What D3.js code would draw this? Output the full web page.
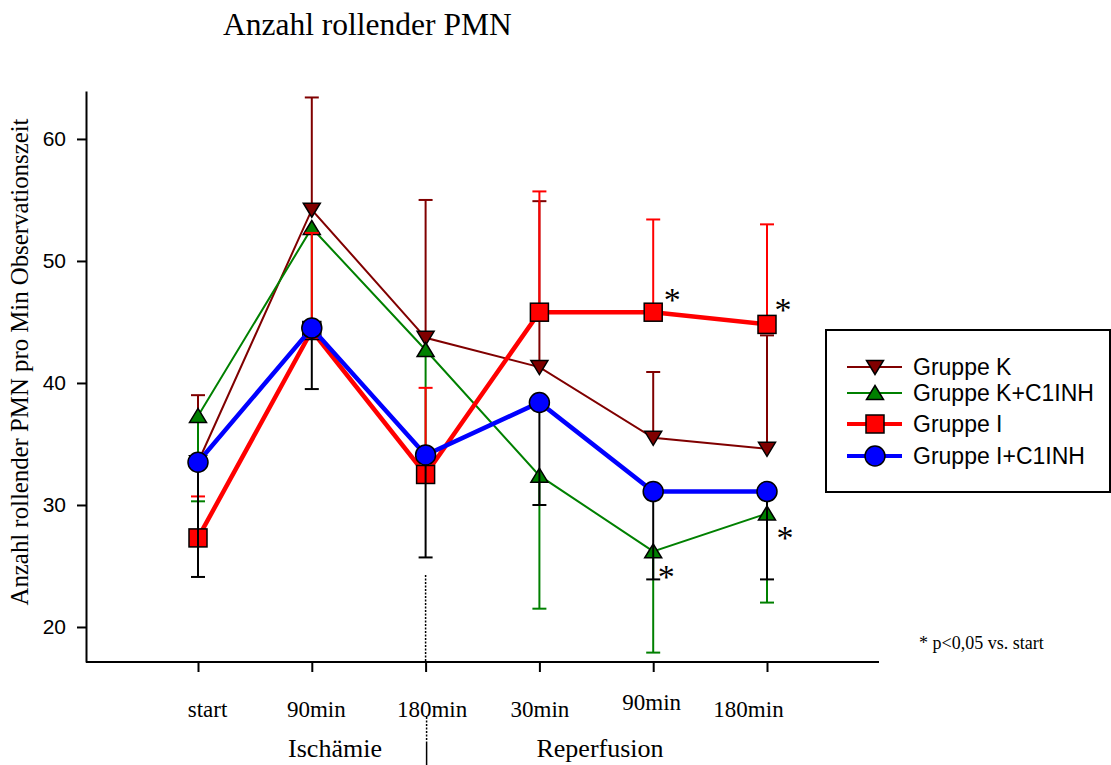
<!DOCTYPE html>
<html>
<head>
<meta charset="utf-8">
<script src="https://cdn.jsdelivr.net/npm/d3@7"></script>
<style>
	body { margin: 0; background: #fff; }
	svg { display: block; }
	.serif { font-family: 'Liberation Serif', 'Times New Roman', serif; }
	.sans { font-family: 'Liberation Sans', Arial, sans-serif; }
</style>
</head>
<body>
<svg id="chart" width="1111" height="765"></svg>
<script>
'use strict';

// time points (x axis)
var tickLabels = ['start', '90min', '180min', '30min', '90min', '180min'];
var yTicks = [20, 30, 40, 50, 60];

// Gruppe K (error bar upwards)
var gruppeK = [33.5, 54.2, 43.7, 41.3, 35.5, 34.6];
var gruppeKErr = [39.0, 63.4, 55.0, 54.9, 40.9, 43.9];
// Gruppe K+C1INH (error bar downwards)
var gruppeKC = [37.3, 52.7, 42.7, 32.4, 26.2, 29.3];
var gruppeKCErr = [30.3, 44.8, 31.8, 21.5, 17.9, 22.0];
// Gruppe I (error bar upwards)
var gruppeI = [27.3, 44.3, 32.5, 45.8, 45.8, 44.8];
var gruppeIErr = [30.7, 52.3, 39.6, 55.7, 53.4, 53.0];
// Gruppe I+C1INH (error bar downwards)
var gruppeIC = [33.5, 44.5, 34.1, 38.4, 31.1, 31.1];
var gruppeICErr = [24.1, 39.5, 25.7, 30.0, 23.9, 23.9];

var series = [
	{ name: 'Gruppe K', values: gruppeK, err: gruppeKErr, line: '#800000', errColor: '#800000', width: 2, shape: 'down' },
	{ name: 'Gruppe K+C1INH', values: gruppeKC, err: gruppeKCErr, line: '#008000', errColor: '#008000', width: 2, shape: 'up' },
	{ name: 'Gruppe I', values: gruppeI, err: gruppeIErr, line: '#ff0000', errColor: '#ff0000', width: 4.5, shape: 'square' },
	{ name: 'Gruppe I+C1INH', values: gruppeIC, err: gruppeICErr, line: '#0000ff', errColor: '#000000', width: 4.5, shape: 'circle' }
];

// significance marks: series index, time index, offset of the star
var stars = [
	{ s: 2, i: 4, dx: 19, dy: -17 },
	{ s: 2, i: 5, dx: 16, dy: -19 },
	{ s: 1, i: 4, dx: 13, dy: 21 },
	{ s: 1, i: 5, dx: 18, dy: 19 }
];

// the tick labels of the original sit a little off their ticks
var labelShift = [9, 4, 6, 0, -2, -19];

var svg = d3.select('#chart');
var margin = { left: 86, top: 91, right: 879, bottom: 662 };

var x = d3.scalePoint()
	.domain(d3.range(tickLabels.length))
	.range([198, 767]);
var y = d3.scaleLinear()
	.domain([17.13, 63.93])
	.range([margin.bottom, margin.top]);

// title
svg.append('text')
	.attr('class', 'serif')
	.attr('x', 223)
	.attr('y', 35)
	.attr('font-size', 31.5)
	.text('Anzahl rollender PMN');

// y axis
var yAxis = d3.axisLeft(y)
	.tickValues(yTicks)
	.tickSize(9)
	.tickSizeOuter(0)
	.tickPadding(11);
var gy = svg.append('g')
	.attr('transform', 'translate(' + margin.left + ',0)')
	.call(yAxis);
gy.selectAll('path, line').attr('stroke', '#000').attr('stroke-width', 2);
gy.selectAll('text')
	.attr('class', 'sans')
	.attr('font-size', 21)
	.attr('fill', '#000');

svg.append('text')
	.attr('class', 'serif')
	.attr('transform', 'translate(28,' + 362 + ') rotate(-90)')
	.attr('text-anchor', 'middle')
	.attr('font-size', 24.8)
	.text('Anzahl rollender PMN pro Min Observationszeit');

// x axis
svg.append('line')
	.attr('x1', margin.left).attr('x2', margin.right)
	.attr('y1', margin.bottom).attr('y2', margin.bottom)
	.attr('stroke', '#000').attr('stroke-width', 2);
var xAxis = d3.axisBottom(x)
	.tickSize(10)
	.tickSizeOuter(0)
	.tickFormat(function(i) { return tickLabels[i]; });
var gx = svg.append('g')
	.attr('transform', 'translate(0,' + margin.bottom + ')')
	.call(xAxis);
gx.select('.domain').remove();
gx.selectAll('line').attr('stroke', '#000').attr('stroke-width', 2);
gx.selectAll('text')
	.attr('class', 'serif')
	.attr('font-size', 23)
	.attr('fill', '#000')
	.attr('dy', null)
	.attr('x', function(i) { return labelShift[i]; })
	.attr('y', function(i) { return i === 4 ? 48 : 55; });

// ischaemia / reperfusion separator
var sepX = x(2);
svg.append('line')
	.attr('x1', sepX).attr('x2', sepX)
	.attr('y1', 575).attr('y2', margin.bottom)
	.attr('stroke', '#000').attr('stroke-width', 1.5)
	.attr('stroke-dasharray', '2,1.5');
svg.append('line')
	.attr('x1', sepX + 1).attr('x2', sepX + 1)
	.attr('y1', 717).attr('y2', 742)
	.attr('stroke', '#000').attr('stroke-width', 1.5)
	.attr('stroke-dasharray', '2,1.5');
svg.append('line')
	.attr('x1', sepX + 1).attr('x2', sepX + 1)
	.attr('y1', 742).attr('y2', 765)
	.attr('stroke', '#000').attr('stroke-width', 1.5);

svg.append('text')
	.attr('class', 'serif')
	.attr('x', 335).attr('y', 757)
	.attr('text-anchor', 'middle')
	.attr('font-size', 26)
	.text('Ischämie');
svg.append('text')
	.attr('class', 'serif')
	.attr('x', 600).attr('y', 757)
	.attr('text-anchor', 'middle')
	.attr('font-size', 26)
	.text('Reperfusion');

// markers
function marker(g, shape, fill) {
	if (shape === 'circle') {
		g.append('circle').attr('r', 10);
	} else if (shape === 'square') {
		g.append('rect').attr('x', -9).attr('y', -9).attr('width', 18).attr('height', 18);
	} else if (shape === 'down') {
		g.append('path').attr('d', 'M-8.5,-6.5L8.5,-6.5L0,7.5Z');
	} else {
		g.append('path').attr('d', 'M-8.5,6.5L8.5,6.5L0,-7.5Z');
	}
	g.selectAll('*')
		.attr('fill', fill)
		.attr('stroke', '#000')
		.attr('stroke-width', 1.5);
}
var fills = ['#800000', '#008000', '#ff0000', '#0000ff'];

var line = d3.line()
	.x(function(d, i) { return x(i); })
	.y(function(d) { return y(d); });

var plot = svg.append('g').attr('class', 'plot');
series.forEach(function(s, si) {
	var g = plot.append('g');
	// error bars
	var eb = g.selectAll('.err')
		.data(s.values)
		.enter().append('g')
		.attr('stroke', s.errColor)
		.attr('stroke-width', 2);
	eb.append('line')
		.attr('x1', function(d, i) { return x(i); })
		.attr('x2', function(d, i) { return x(i); })
		.attr('y1', function(d) { return y(d); })
		.attr('y2', function(d, i) { return y(s.err[i]); });
	eb.append('line')
		.attr('x1', function(d, i) { return x(i) - 7; })
		.attr('x2', function(d, i) { return x(i) + 7; })
		.attr('y1', function(d, i) { return y(s.err[i]); })
		.attr('y2', function(d, i) { return y(s.err[i]); });
	// line
	g.append('path')
		.datum(s.values)
		.attr('d', line)
		.attr('fill', 'none')
		.attr('stroke', s.line)
		.attr('stroke-width', s.width);
	// symbols
	g.selectAll('.pt')
		.data(s.values)
		.enter().append('g')
		.attr('transform', function(d, i) { return 'translate(' + x(i) + ',' + y(d) + ')'; })
		.each(function() { marker(d3.select(this), s.shape, fills[si]); });
});

// significance stars
svg.selectAll('.star')
	.data(stars)
	.enter().append('text')
	.attr('class', 'serif')
	.attr('text-anchor', 'middle')
	.attr('font-size', 34)
	.attr('x', function(d) { return x(d.i) + d.dx; })
	.attr('y', function(d) { return y(series[d.s].values[d.i]) + d.dy + 16; })
	.text('*');

svg.append('text')
	.attr('class', 'serif')
	.attr('x', 919).attr('y', 649)
	.attr('font-size', 18)
	.text('* p<0,05 vs. start');

// legend
var legend = svg.append('g');
legend.append('rect')
	.attr('x', 826).attr('y', 330)
	.attr('width', 284).attr('height', 162)
	.attr('fill', '#fff')
	.attr('stroke', '#000')
	.attr('stroke-width', 2);
var legendY = [367, 393, 424, 456];
series.forEach(function(s, si) {
	var row = legend.append('g').attr('transform', 'translate(0,' + legendY[si] + ')');
	row.append('line')
		.attr('x1', 847).attr('x2', 902)
		.attr('stroke', s.line)
		.attr('stroke-width', s.width === 2 ? 2 : 4);
	var m = row.append('g').attr('transform', 'translate(875,0)');
	marker(m, s.shape, fills[si]);
	row.append('text')
		.attr('class', 'sans')
		.attr('x', 913)
		.attr('y', 8)
		.attr('font-size', 23)
		.text(s.name);
});
</script>
</body>
</html>
